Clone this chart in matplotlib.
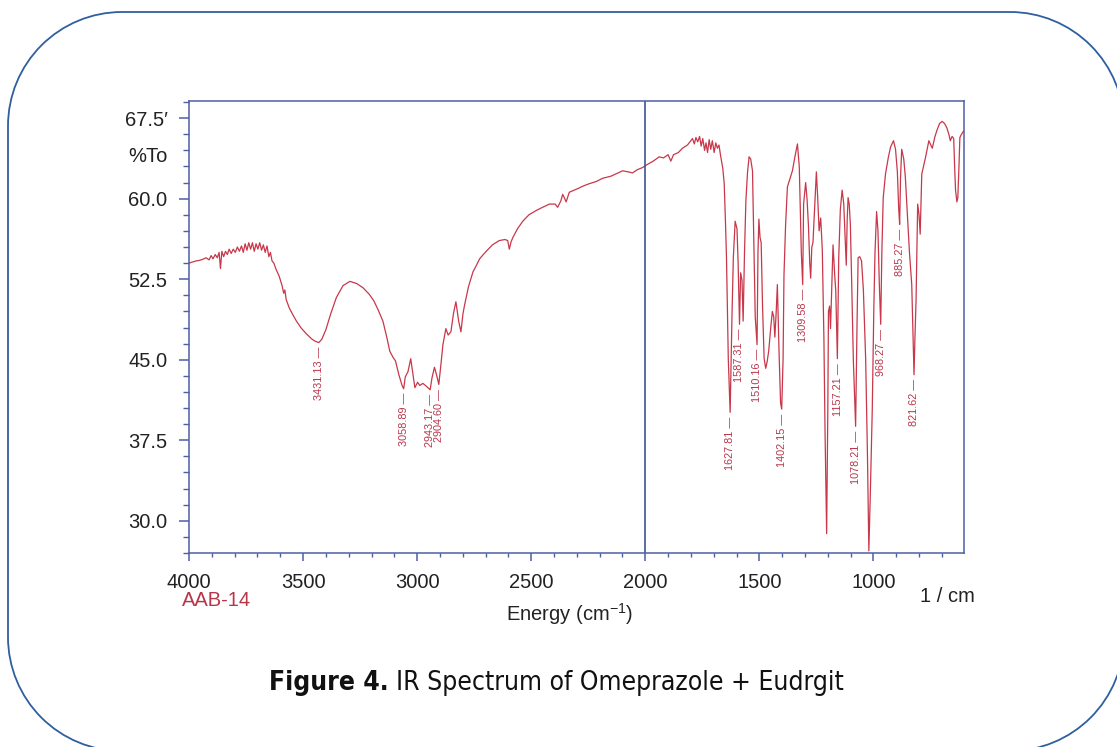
import matplotlib
matplotlib.use('Agg')
import numpy as np
import matplotlib.pyplot as plt
from matplotlib.patches import PathPatch
from matplotlib.path import Path
from matplotlib.transforms import IdentityTransform
from matplotlib.ticker import MultipleLocator, FixedLocator

# Spektrum (Wellenzahl in 1/cm, Transmission in %)
wellenzahl = [
    4000, 3985, 3970, 3955, 3940, 3925, 3912, 3903, 3895, 3885, 3876, 3868, 3862, 3856,
    3848, 3840, 3832, 3824, 3815, 3806, 3797, 3788, 3779, 3770, 3762, 3754, 3746, 3738,
    3730, 3722, 3714, 3706, 3698, 3690, 3682, 3674, 3666, 3658, 3650, 3643, 3636, 3628,
    3618, 3605, 3592, 3585, 3580, 3574, 3560, 3545, 3529, 3510, 3485, 3460, 3445, 3431,
    3418, 3400, 3380, 3354, 3325, 3295, 3265, 3237, 3210, 3190, 3170, 3150, 3132, 3120,
    3105, 3095, 3080, 3066, 3059, 3052, 3040, 3028, 3018, 3010, 2998, 2988, 2975, 2958,
    2943, 2935, 2924, 2915, 2905, 2896, 2887, 2874, 2864, 2852, 2840, 2830, 2818, 2808,
    2799, 2792, 2775, 2755, 2740, 2726, 2710, 2697, 2670, 2640, 2615, 2603, 2596, 2588,
    2580, 2560, 2537, 2510, 2478, 2450, 2420, 2395, 2384, 2370, 2362, 2355, 2347, 2333,
    2300, 2270, 2245, 2215, 2187, 2150, 2120, 2099, 2075, 2056, 2035, 2012, 1990, 1965,
    1939, 1920, 1900, 1888, 1876, 1855, 1837, 1815, 1800, 1793, 1785, 1778, 1770, 1762,
    1755, 1748, 1740, 1734, 1727, 1720, 1713, 1706, 1698, 1691, 1684, 1677, 1669, 1660,
    1654, 1648, 1644, 1636, 1628, 1620, 1614, 1606, 1598, 1593, 1587, 1582, 1576, 1571,
    1565, 1559, 1552, 1545, 1538, 1530, 1524, 1518, 1510, 1506, 1502, 1497, 1492, 1486,
    1479, 1472, 1466, 1459, 1450, 1443, 1437, 1432, 1426, 1421, 1414, 1407, 1402, 1396,
    1392, 1385, 1377, 1365, 1355, 1345, 1333, 1325, 1316, 1310, 1306, 1297, 1291, 1285,
    1279, 1275, 1270, 1265, 1258, 1250, 1244, 1238, 1231, 1224, 1217, 1212, 1205, 1200,
    1197, 1192, 1188, 1182, 1177, 1170, 1165, 1158, 1152, 1145, 1137, 1130, 1125, 1119,
    1115, 1111, 1106, 1101, 1095, 1088, 1078, 1072, 1067, 1060, 1052, 1044, 1034, 1026,
    1020, 1013, 1005, 998, 993, 986, 980, 974, 968, 963, 957, 947, 935, 925,
    912, 903, 895, 889, 885, 881, 876, 867, 860, 852, 842, 832, 826, 822,
    818, 813, 806, 800, 795, 788, 771, 757, 742, 730, 721, 710, 699, 688,
    678, 668, 663, 655, 648, 644, 640, 634, 630, 625, 621, 614, 605,
]
transmission = [
    54.0, 54.1, 54.2, 54.25, 54.35, 54.5, 54.3, 54.7, 54.4, 54.8, 54.5, 55.0, 53.5, 55.1,
    54.6, 55.1, 54.8, 55.3, 54.9, 55.3, 55.0, 55.5, 55.1, 55.6, 55.0, 55.8, 55.2, 55.9,
    55.3, 55.9, 55.1, 55.8, 55.3, 55.9, 55.2, 55.7, 55.0, 55.6, 54.6, 55.0, 54.2, 54.0,
    53.4, 52.8, 51.9, 51.2, 51.5, 50.6, 49.8, 49.2, 48.6, 48.0, 47.4, 46.9, 46.7, 46.6,
    46.9, 47.8, 49.2, 50.8, 51.9, 52.3, 52.1, 51.7, 51.1, 50.5, 49.6, 48.6, 47.0, 45.8,
    45.2, 44.9, 43.6, 42.6, 42.3, 43.4, 43.9, 45.1, 43.6, 42.4, 42.9, 42.6, 42.8, 42.5,
    42.2, 43.3, 44.3, 43.6, 42.7, 44.5, 46.4, 47.9, 47.3, 47.6, 49.4, 50.4, 48.6, 47.6,
    49.3, 50.1, 51.8, 53.2, 53.8, 54.4, 54.8, 55.1, 55.7, 56.1, 56.2, 56.1, 55.3, 56.0,
    56.4, 57.2, 57.9, 58.5, 58.9, 59.2, 59.5, 59.5, 59.2, 59.8, 60.4, 60.1, 59.7, 60.6,
    60.9, 61.2, 61.4, 61.6, 61.9, 62.1, 62.4, 62.6, 62.5, 62.4, 62.7, 62.9, 63.2, 63.5,
    63.9, 63.8, 64.1, 63.5, 64.1, 64.3, 64.7, 65.0, 65.4, 65.6, 65.1, 65.7, 65.3, 65.8,
    64.9, 65.6, 64.5, 65.2, 64.3, 65.5, 64.6, 65.4, 64.3, 65.2, 64.7, 65.0, 63.9, 62.8,
    61.4, 57.5, 54.5, 45.0, 40.1, 49.0, 54.5, 57.9, 57.2, 54.0, 48.3, 53.1, 52.4, 48.6,
    55.0, 59.8, 62.4, 63.9, 63.7, 62.6, 56.0, 49.0, 46.4, 55.0, 58.1, 56.4, 55.9, 50.0,
    45.1, 44.2, 44.8, 45.8, 48.0, 49.5, 49.0, 47.1, 49.5, 52.0, 46.0, 41.0, 40.4, 45.0,
    52.9, 57.5, 61.1, 61.9, 62.6, 63.8, 65.1, 63.0, 55.0, 52.0, 59.5, 61.5, 60.0, 57.6,
    54.0, 52.6, 55.5, 55.9, 59.0, 62.5, 60.0, 57.0, 58.2, 55.2, 47.0, 38.3, 28.8, 40.0,
    49.5, 50.0, 47.9, 52.0, 55.7, 53.0, 51.4, 45.1, 54.5, 59.0, 60.8, 59.5, 57.0, 53.8,
    58.0, 60.1, 59.5, 57.6, 52.0, 45.0, 38.8, 48.0, 54.5, 54.6, 54.2, 51.5, 45.1, 36.0,
    27.2, 33.0, 40.4, 50.0, 55.0, 58.8, 57.0, 52.0, 48.3, 55.0, 60.1, 62.3, 63.8, 64.8,
    65.4, 64.6, 62.5, 59.0, 57.6, 62.0, 64.6, 63.7, 62.0, 58.9, 55.0, 52.0, 47.0, 43.6,
    47.0, 50.6, 59.5, 58.5, 56.7, 62.3, 63.9, 65.4, 64.7, 65.8, 66.4, 67.0, 67.2, 67.0,
    66.6, 65.9, 65.4, 65.8, 65.6, 63.0, 60.8, 59.7, 60.1, 63.0, 65.7, 66.0, 66.3,
]

# beschriftete Banden
peak_wn = [3431.13, 3058.89, 2943.17, 2904.60, 1627.81, 1587.31, 1510.16,
           1402.15, 1309.58, 1157.21, 1078.21, 968.27, 885.27, 821.62]
peak_t = [46.6, 42.3, 42.2, 42.7, 40.1, 48.3, 46.4,
          40.4, 52.0, 45.1, 38.8, 48.3, 57.6, 43.6]

y_ticks = [30.0, 37.5, 45.0, 52.5, 60.0, 67.5]
y_labels = ['30.0', '37.5', '45.0', '52.5', '60.0', '67.5\u2032']

rot = '#c8374a'
rot_text = '#b8364a'
blau = '#4d5fa6'

plt.rcParams['font.family'] = ['Liberation Sans', 'DejaVu Sans']
plt.rcParams['mathtext.fontset'] = 'custom'
plt.rcParams['mathtext.rm'] = 'Liberation Sans'

fig = plt.figure(figsize=(11.17, 7.47), dpi=100)
ax = fig.add_axes([0.1692, 0.2597, 0.6934, 0.6051])

ax.plot(wellenzahl, transmission, color=rot, lw=0.9)
ax.axvline(2000, color='#3d5591', lw=1.2)

ax.set_xlim(4000, 605)
ax.set_ylim(27.0, 69.1)

ax.xaxis.set_major_locator(MultipleLocator(500))
ax.xaxis.set_minor_locator(MultipleLocator(100))
ax.yaxis.set_major_locator(FixedLocator(y_ticks))
ax.yaxis.set_minor_locator(MultipleLocator(1.5))
ax.set_yticklabels(y_labels)

for s in ax.spines.values():
    s.set_color(blau)
    s.set_linewidth(1.1)

ax.tick_params(which='both', direction='out', color=blau, labelcolor='#222222',
               labelsize=14.5, pad=8.5)
ax.tick_params(axis='x', which='major', length=6, width=1.1)
ax.tick_params(axis='x', which='minor', length=3, width=1.0)
ax.tick_params(axis='y', which='major', length=7, width=1.1)
ax.tick_params(axis='y', which='minor', length=4, width=1.0)

# Bandenbeschriftung
for w, v in zip(peak_wn, peak_t):
    ax.text(w, v - 0.4, f'{w:.2f} \u2014', rotation=90, ha='center', va='top',
            fontsize=7.8, color=rot_text)

W, H = 1117, 747
fig.text(168 / W, 1 - 157 / H, '%To', ha='right', va='center', fontsize=14.5, color='#222222')
fig.text(182 / W, 1 - 601 / H, 'AAB-14', ha='left', va='center', fontsize=14.5, color=rot_text)
fig.text(570 / W, 1 - 614 / H, 'Energy (cm$^{-1}$)', ha='center', va='center',
         fontsize=14.5, color='#222222')
fig.text(947 / W, 1 - 596 / H, '1 / cm', ha='center', va='center', fontsize=14.5, color='#222222')

# Bildunterschrift (schmale Schrift)
fig.text(389 / W, 1 - 690 / H, 'Figure 4.', ha='right', va='baseline', fontsize=19,
         fontweight='bold', family='DejaVu Sans', fontstretch='condensed', color='#111111')
fig.text(396 / W, 1 - 690 / H, 'IR Spectrum of Omeprazole + Eudrgit', ha='left',
         va='baseline', fontsize=19, family='DejaVu Sans', fontstretch='condensed',
         color='#111111')

# abgerundeter Rahmen aus Kreisboegen (Pixelkoordinaten);
# die Kanten ausserhalb des Bildes werden nicht gezeichnet
x0, x1, y0, y1, r = 8, 1124, -4, 735, 114
ecken = [((x1 - r, y1 - r), 0, 90), ((x0 + r, y1 - r), 90, 180),
         ((x0 + r, y0 + r), 180, 270), ((x1 - r, y0 + r), 270, 360)]
verts, codes = [], []
for i, ((cx, cy), t1, t2) in enumerate(ecken):
    bogen = Path.arc(t1, t2)
    verts.extend(bogen.vertices * r + np.array([cx, cy]))
    c = list(bogen.codes)
    c[0] = Path.LINETO if i in (1, 2) else Path.MOVETO
    codes.extend(c)
rahmen = PathPatch(Path(verts, codes), transform=IdentityTransform(), fill=False,
                   ec='#2f5f9e', lw=1.3)
fig.add_artist(rahmen)

fig.savefig('out.png', dpi=100)
